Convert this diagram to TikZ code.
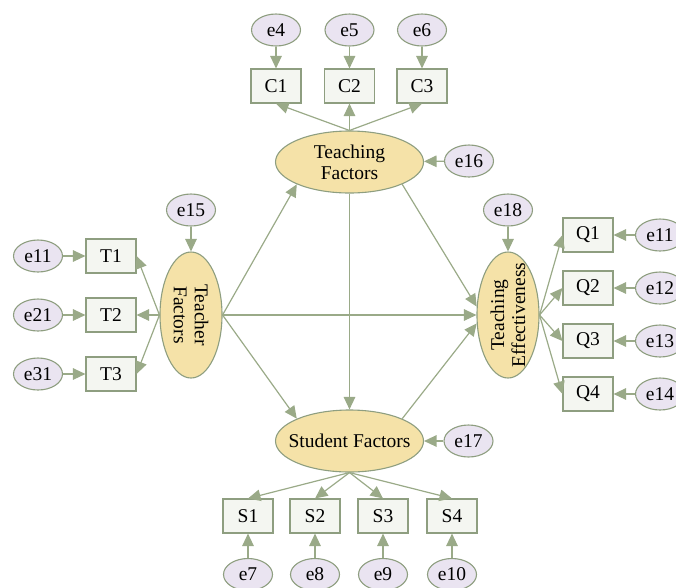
\documentclass[tikz,border=0pt]{standalone}
\usepackage{fontspec}
\setmainfont{Liberation Serif}
\usetikzlibrary{shapes.geometric,arrows.meta}
\definecolor{edgec}{HTML}{9AAA88}
\definecolor{bordc}{HTML}{8E9E80}
\definecolor{latfill}{HTML}{F5E2A8}
\definecolor{errfill}{HTML}{EAE4F1}
\definecolor{boxfill}{HTML}{F4F6F1}
\tikzset{
  every node/.style={font=\fontsize{19.5}{21}\selectfont, inner sep=0pt},
  latent/.style={ellipse, draw=bordc, line width=1.1pt, fill=latfill, minimum width=148pt, minimum height=62pt, align=center},
  vlatent/.style={ellipse, draw=bordc, line width=1.1pt, fill=latfill, minimum width=62pt, minimum height=126pt},
  err/.style={ellipse, draw=bordc, line width=1.1pt, fill=errfill, minimum width=49pt, minimum height=32pt},
  obs/.style={rectangle, draw=bordc, line width=1.1pt, fill=boxfill, minimum width=50pt, minimum height=34pt},
  arr/.style={draw=edgec, line width=1.2pt, -{Triangle[length=12.5pt,width=11.5pt]}, shorten >=0pt}
}
\begin{document}
\begin{tikzpicture}[x=1pt,y=-1pt]
\useasboundingbox (0,0) rectangle (676,587);
% latent
\node[latent] (TF) at (349.5,162) {Teaching\\Factors};
\node[latent] (SF) at (349.5,441) {\makebox[0pt]{Student Factors}};
\node[vlatent] (TeF) at (191,315) {};
\node[rotate=-90, align=center] (TeFt) at (TeF.center) {Teacher\\Factors};
\node[vlatent] (TE) at (508,315) {};
\node[rotate=90, align=center] (TEt) at (TE.center) {Teaching\\Effectiveness};
% observed
\node[obs] (C1) at (276,86) {C1};
\node[obs] (C2) at (349.5,86) {C2};
\node[obs] (C3) at (422,86) {C3};
\node[obs] (T1) at (111,256) {T1};
\node[obs] (T2) at (111,315) {T2};
\node[obs] (T3) at (111,374) {T3};
\node[obs] (Q1) at (588,235) {Q1};
\node[obs] (Q2) at (588,288) {Q2};
\node[obs] (Q3) at (588,341) {Q3};
\node[obs] (Q4) at (588,394) {Q4};
\node[obs] (S1) at (248,516) {S1};
\node[obs] (S2) at (315,516) {S2};
\node[obs] (S3) at (383,516) {S3};
\node[obs] (S4) at (452,516) {S4};
% errors
\node[err] (e4) at (276,30) {e4};
\node[err] (e5) at (349.5,30) {e5};
\node[err] (e6) at (422,30) {e6};
\node[err] (e16) at (469,161) {e16};
\node[err] (e15) at (191,210) {e15};
\node[err] (e18) at (508,210) {e18};
\node[err] (e17) at (468.5,441) {e17};
\node[err] (eT1) at (38,256) {e11};
\node[err] (eT2) at (38,315) {e21};
\node[err] (eT3) at (38,374) {e31};
\node[err] (eQ1) at (660,235) {e11};
\node[err] (eQ2) at (660,288) {e12};
\node[err] (eQ3) at (660,341) {e13};
\node[err] (eQ4) at (660,394) {e14};
\node[err] (e7) at (248,574.5) {e7};
\node[err] (e8) at (315,574.5) {e8};
\node[err] (e9) at (383,574.5) {e9};
\node[err] (e10) at (452,574.5) {e10};
% structural paths
\draw[arr] (TeF.east) -- (TF.south west);
\draw[arr] (TeF.east) -- (SF.north west);
\draw[arr] (TeF.east) -- (TE.west);
\draw[arr] (TF.south) -- (SF.north);
\draw[arr] (TF.south east) -- (TE.165);
\draw[arr] (SF.north east) -- (TE.195);
% measurement paths
\draw[arr] (TF.north) -- (C1.south);
\draw[arr] (TF.north) -- (C2.south);
\draw[arr] (TF.north) -- (C3.south);
\draw[arr] (TeF.west) -- (T1.east);
\draw[arr] (TeF.west) -- (T2.east);
\draw[arr] (TeF.west) -- (T3.east);
\draw[arr] (TE.east) -- (Q1.west);
\draw[arr] (TE.east) -- (Q2.west);
\draw[arr] (TE.east) -- (Q3.west);
\draw[arr] (TE.east) -- (Q4.west);
\draw[arr] (SF.south) -- (S1.north);
\draw[arr] (SF.south) -- (S2.north);
\draw[arr] (SF.south) -- (S3.north);
\draw[arr] (SF.south) -- (S4.north);
% error paths
\draw[arr] (e4) -- (C1);
\draw[arr] (e5) -- (C2);
\draw[arr] (e6) -- (C3);
\draw[arr] (e16) -- (TF);
\draw[arr] (e15) -- (TeF);
\draw[arr] (e18) -- (TE);
\draw[arr] (e17) -- (SF);
\draw[arr] (eT1) -- (T1);
\draw[arr] (eT2) -- (T2);
\draw[arr] (eT3) -- (T3);
\draw[arr] (eQ1) -- (Q1);
\draw[arr] (eQ2) -- (Q2);
\draw[arr] (eQ3) -- (Q3);
\draw[arr] (eQ4) -- (Q4);
\draw[arr] (e7) -- (S1);
\draw[arr] (e8) -- (S2);
\draw[arr] (e9) -- (S3);
\draw[arr] (e10) -- (S4);
\end{tikzpicture}
\end{document}
